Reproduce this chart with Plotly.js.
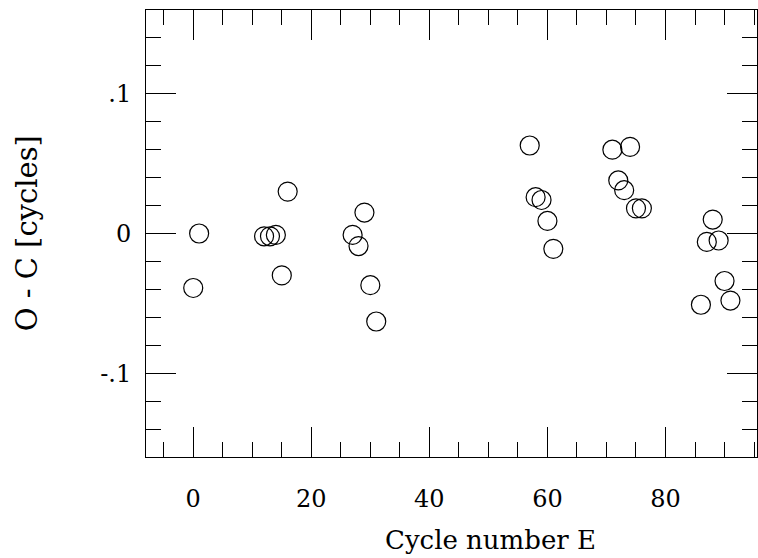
<!DOCTYPE html>
<html>
<head>
<meta charset="utf-8">
<script src="https://cdn.plot.ly/plotly-3.0.1.min.js"></script>
<style>html,body{margin:0;padding:0;background:#fff;}#chart{width:758px;height:558px;}</style>
</head>
<body>
<div id="chart"></div>
<script>
// Cycle number E
const cycleE = [0, 1, 12, 13, 14, 15, 16, 27, 28, 29, 30, 31, 57, 58, 59, 60, 61, 71, 72, 73, 74, 75, 76, 86, 87, 88, 89, 90, 91];
// O - C in cycles
const oMinusC = [-0.039, 0.000, -0.002, -0.002, -0.001, -0.030, 0.030, -0.001, -0.009, 0.015, -0.037, -0.063,
                 0.063, 0.026, 0.024, 0.009, -0.011, 0.060, 0.038, 0.031, 0.062, 0.018, 0.018,
                 -0.051, -0.006, 0.010, -0.005, -0.034, -0.048];
const xTickVals = [0, 20, 40, 60, 80];
const xTickText = ['0', '20', '40', '60', '80'];
const yTickVals = [-0.1, 0, 0.1];
const yTickText = ['-.1', '0', '.1'];

const serif = 'DejaVu Serif, Liberation Serif, serif';

const trace = {
  x: cycleE,
  y: oMinusC,
  type: 'scatter',
  mode: 'markers',
  marker: {symbol: 'circle-open', size: 19, color: '#000', line: {width: 1.2, color: '#000'}},
  hoverinfo: 'x+y'
};

const axisCommon = {
  showline: true, linecolor: '#000', linewidth: 1,
  mirror: 'allticks', ticks: 'inside', ticklen: 30, tickwidth: 1, tickcolor: '#000',
  showgrid: false, zeroline: false,
  tickfont: {family: serif, size: 24, color: '#000'}
};

const layout = {
  width: 758, height: 558,
  margin: {l: 146, r: 1, t: 10, b: 101},
  paper_bgcolor: '#fff', plot_bgcolor: '#fff',
  showlegend: false,
  xaxis: Object.assign({}, axisCommon, {
    range: [-8, 95.5],
    tickmode: 'array', tickvals: xTickVals, ticktext: xTickText,
    ticklabelstandoff: 20,
    minor: {tickmode: 'linear', tick0: 0, dtick: 5, ticks: 'inside', ticklen: 15, tickwidth: 1, tickcolor: '#000', showgrid: false}
  }),
  yaxis: Object.assign({}, axisCommon, {
    range: [-0.16, 0.16],
    tickmode: 'array', tickvals: yTickVals, ticktext: yTickText,
    ticklabelstandoff: 9,
    minor: {tickmode: 'linear', tick0: 0, dtick: 0.02, ticks: 'inside', ticklen: 15, tickwidth: 1, tickcolor: '#000', showgrid: false}
  }),
  annotations: [
    {text: 'Cycle number E', xref: 'paper', yref: 'paper', x: 0.564, y: -0.186,
     xanchor: 'center', yanchor: 'middle', showarrow: false,
     font: {family: serif, size: 26, color: '#000'}},
    {text: 'O - C [cycles]', xref: 'paper', yref: 'paper', x: -0.195, y: 0.5,
     xanchor: 'center', yanchor: 'middle', textangle: -90, showarrow: false,
     font: {family: serif, size: 29, color: '#000'}}
  ]
};

Plotly.newPlot('chart', [trace], layout, {displayModeBar: false, staticPlot: true});
</script>
</body>
</html>
